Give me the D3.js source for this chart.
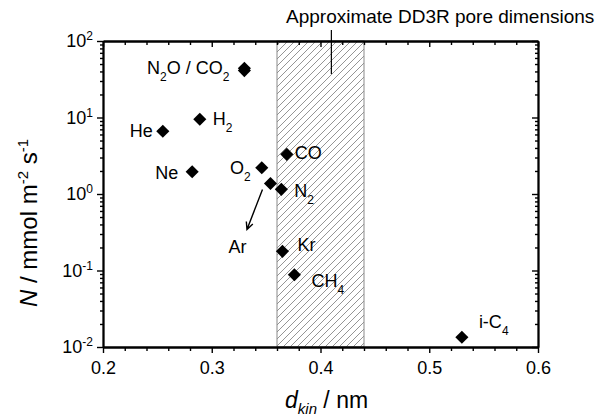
<!DOCTYPE html>
<html>
<head>
<meta charset="utf-8">
<script src="https://cdn.jsdelivr.net/npm/d3@7"></script>
<style>
	body { margin: 0; background: #fff; }
	text { font-family: Arial, "Liberation Sans", sans-serif; }
</style>
</head>
<body>
<script>
// Gas permeation data: kinetic diameter (nm) and flux (mmol m-2 s-1)
var gases = ["He", "Ne", "H2", "N2O", "CO2", "O2", "Ar", "N2", "CO", "Kr", "CH4", "i-C4"];
var dkin  = [0.255, 0.282, 0.289, 0.33, 0.33, 0.346, 0.354, 0.364, 0.369, 0.365, 0.376, 0.53];
var flux  = [6.6, 1.95, 9.5, 44, 41, 2.2, 1.37, 1.15, 3.3, 0.178, 0.088, 0.0134];

// DD3R pore window range (nm) and marker of the annotation
var poreRange = [0.36, 0.44];
var poreMark = 0.41;

var xTicks = [0.2, 0.3, 0.4, 0.5, 0.6];
var yTicks = [0.01, 0.1, 1, 10, 100];
var yExponents = ["-2", "-1", "0", "1", "2"];

// Label text: segments, "_" marks a subscript
var labelGas  = ["He", "Ne", "H2", "N2O", "O2", "Ar", "N2", "CO", "Kr", "CH4", "i-C4"];
var labelText = [
	[["He"]],
	[["Ne"]],
	[["H"], ["2", "_"]],
	[["N"], ["2", "_"], ["O / CO"], ["2", "_"]],
	[["O"], ["2", "_"]],
	[["Ar"]],
	[["N"], ["2", "_"]],
	[["CO"]],
	[["Kr"]],
	[["CH"], ["4", "_"]],
	[["i-C"], ["4", "_"]]
];
// pixel offsets of each label from its point [dx, dy, anchor]
var labelPlace = {
	"He":   [-10, 6, "end"],
	"Ne":   [-14, 7, "end"],
	"H2":   [13, 6, "start"],
	"N2O":  [-15, 6, "end"],
	"O2":   [-11, 6, "end"],
	"Ar":   [-42, 69, "start"],
	"N2":   [13, 8, "start"],
	"CO":   [8, 5, "start"],
	"Kr":   [15, 0, "start"],
	"CH4":  [17, 12, "start"],
	"i-C4": [17, -9, "start"]
};

var width = 603,
	height = 419;
var mL = 103, mR = 538, mT = 41, mB = 347;

var x = d3.scaleLinear().domain([0.2, 0.6]).range([mL, mR]);
var y = d3.scaleLog().domain([0.01, 100]).range([mB, mT]);

var svg = d3.select("body")
	.append("svg")
	.attr("width", width)
	.attr("height", height);

// hatch pattern for the pore range
var pat = svg.append("defs")
	.append("pattern")
	.attr("id", "hatch")
	.attr("patternUnits", "userSpaceOnUse")
	.attr("width", 7)
	.attr("height", 7);
pat.append("path")
	.attr("d", "M0,7 L7,0 M-1,1 L1,-1 M6,8 L8,6")
	.attr("stroke", "#7a7a7a")
	.attr("stroke-width", 0.8);

svg.append("rect")
	.attr("x", x(poreRange[0]))
	.attr("y", mT)
	.attr("width", x(poreRange[1]) - x(poreRange[0]))
	.attr("height", mB - mT)
	.attr("fill", "url(#hatch)")
	.attr("stroke", "#8a8a8a")
	.attr("stroke-width", 1);

// minor ticks
var xMinor = d3.range(0.2, 0.6001, 0.02).filter(function(v) {
	return Math.abs(v * 10 - Math.round(v * 10)) > 1e-6;
});
var yMinor = [];
[0.01, 0.1, 1, 10].forEach(function(d) {
	for (var k = 2; k <= 9; k++) yMinor.push(d * k);
});

function styleAxis(g) {
	g.select(".domain").attr("stroke-width", 1.8);
	g.selectAll(".tick line").attr("stroke-width", 1.4);
	g.selectAll("text").attr("font-size", 18).attr("fill", "#000");
}

// bottom
svg.append("g").attr("transform", "translate(0," + mB + ")")
	.call(d3.axisBottom(x).tickValues(xMinor).tickSize(4).tickFormat("").tickSizeOuter(0))
	.call(styleAxis);
svg.append("g").attr("transform", "translate(0," + mB + ")")
	.call(d3.axisBottom(x).tickValues(xTicks).tickSize(6).tickPadding(8)
		.tickFormat(d3.format(".1f")).tickSizeOuter(0))
	.call(styleAxis);
// top (ticks inside)
svg.append("g").attr("transform", "translate(0," + mT + ")")
	.call(d3.axisTop(x).tickValues(xMinor).tickSize(-4).tickFormat("").tickSizeOuter(0))
	.call(styleAxis);
svg.append("g").attr("transform", "translate(0," + mT + ")")
	.call(d3.axisTop(x).tickValues(xTicks).tickSize(-6).tickFormat("").tickSizeOuter(0))
	.call(styleAxis);
// left
svg.append("g").attr("transform", "translate(" + mL + ",0)")
	.call(d3.axisLeft(y).tickValues(yMinor).tickSize(3).tickFormat("").tickSizeOuter(0))
	.call(styleAxis);
var yAx = svg.append("g").attr("transform", "translate(" + mL + ",0)")
	.call(d3.axisLeft(y).tickValues(yTicks).tickSize(6).tickPadding(4).tickSizeOuter(0))
	.call(styleAxis);
// right (ticks inside)
svg.append("g").attr("transform", "translate(" + mR + ",0)")
	.call(d3.axisRight(y).tickValues(yMinor).tickSize(-3).tickFormat("").tickSizeOuter(0))
	.call(styleAxis);
svg.append("g").attr("transform", "translate(" + mR + ",0)")
	.call(d3.axisRight(y).tickValues(yTicks).tickSize(-6).tickFormat("").tickSizeOuter(0))
	.call(styleAxis);

// y tick labels as 10^n
yAx.selectAll(".tick text").each(function(d, i) {
	var t = d3.select(this).text(null);
	t.append("tspan").text("10");
	t.append("tspan").attr("dy", -7).attr("font-size", 12).text(yExponents[i]);
});

// points
svg.append("g").selectAll("path")
	.data(gases)
	.enter()
	.append("path")
	.attr("d", d3.symbol().type(d3.symbolSquare).size(86))
	.attr("transform", function(d, i) {
		return "translate(" + x(dkin[i]) + "," + y(flux[i]) + ") rotate(45)";
	})
	.attr("fill", "#000");

// labels
labelGas.forEach(function(g, i) {
	var k = gases.indexOf(g);
	var p = labelPlace[g];
	var t = svg.append("text")
		.attr("x", x(dkin[k]) + p[0])
		.attr("y", y(flux[k]) + p[1])
		.attr("text-anchor", p[2])
		.attr("font-size", 18);
	var shift = 0;
	labelText[i].forEach(function(seg) {
		var sp = t.append("tspan").text(seg[0]);
		if (seg[1] === "_") {
			sp.attr("font-size", 12).attr("dy", 7 - shift);
			shift = 7;
		} else {
			sp.attr("dy", -shift);
			shift = 0;
		}
	});
});

// arrow from Ar point to its label
var ar = gases.indexOf("Ar");
var ax0 = x(dkin[ar]) - 8, ay0 = y(flux[ar]) + 6;
var ax1 = ax0 - 15.5, ay1 = ay0 + 40;
var ang = Math.atan2(ay1 - ay0, ax1 - ax0);
svg.append("path")
	.attr("d", "M" + ax0 + "," + ay0 + "L" + ax1 + "," + ay1 +
		"M" + (ax1 - 8 * Math.cos(ang - 0.45)) + "," + (ay1 - 8 * Math.sin(ang - 0.45)) +
		"L" + ax1 + "," + ay1 +
		"L" + (ax1 - 8 * Math.cos(ang + 0.45)) + "," + (ay1 - 8 * Math.sin(ang + 0.45)))
	.attr("fill", "none")
	.attr("stroke", "#000")
	.attr("stroke-width", 1.4);

// pore annotation
svg.append("line")
	.attr("x1", x(poreMark)).attr("x2", x(poreMark))
	.attr("y1", 30).attr("y2", 74)
	.attr("stroke", "#000")
	.attr("stroke-width", 1.2);
svg.append("text")
	.attr("x", 286)
	.attr("y", 23)
	.attr("font-size", 19)
	.text("Approximate DD3R pore dimensions");

// axis titles
var xt = svg.append("text")
	.attr("x", 285)
	.attr("y", 408)
	.attr("font-size", 23);
xt.append("tspan").attr("font-style", "italic").text("d");
xt.append("tspan").attr("font-style", "italic").attr("font-size", 15).attr("dy", 6).text("kin");
xt.append("tspan").attr("dy", -6).text(" / nm");

var yt = svg.append("text")
	.attr("transform", "translate(37,307) rotate(-90)")
	.attr("font-size", 24);
yt.append("tspan").attr("font-style", "italic").text("N");
yt.append("tspan").text(" / mmol m");
yt.append("tspan").attr("font-size", 15).attr("dy", -9).text("-2");
yt.append("tspan").attr("dy", 9).text(" s");
yt.append("tspan").attr("font-size", 15).attr("dy", -9).text("-1");
</script>
</body>
</html>
